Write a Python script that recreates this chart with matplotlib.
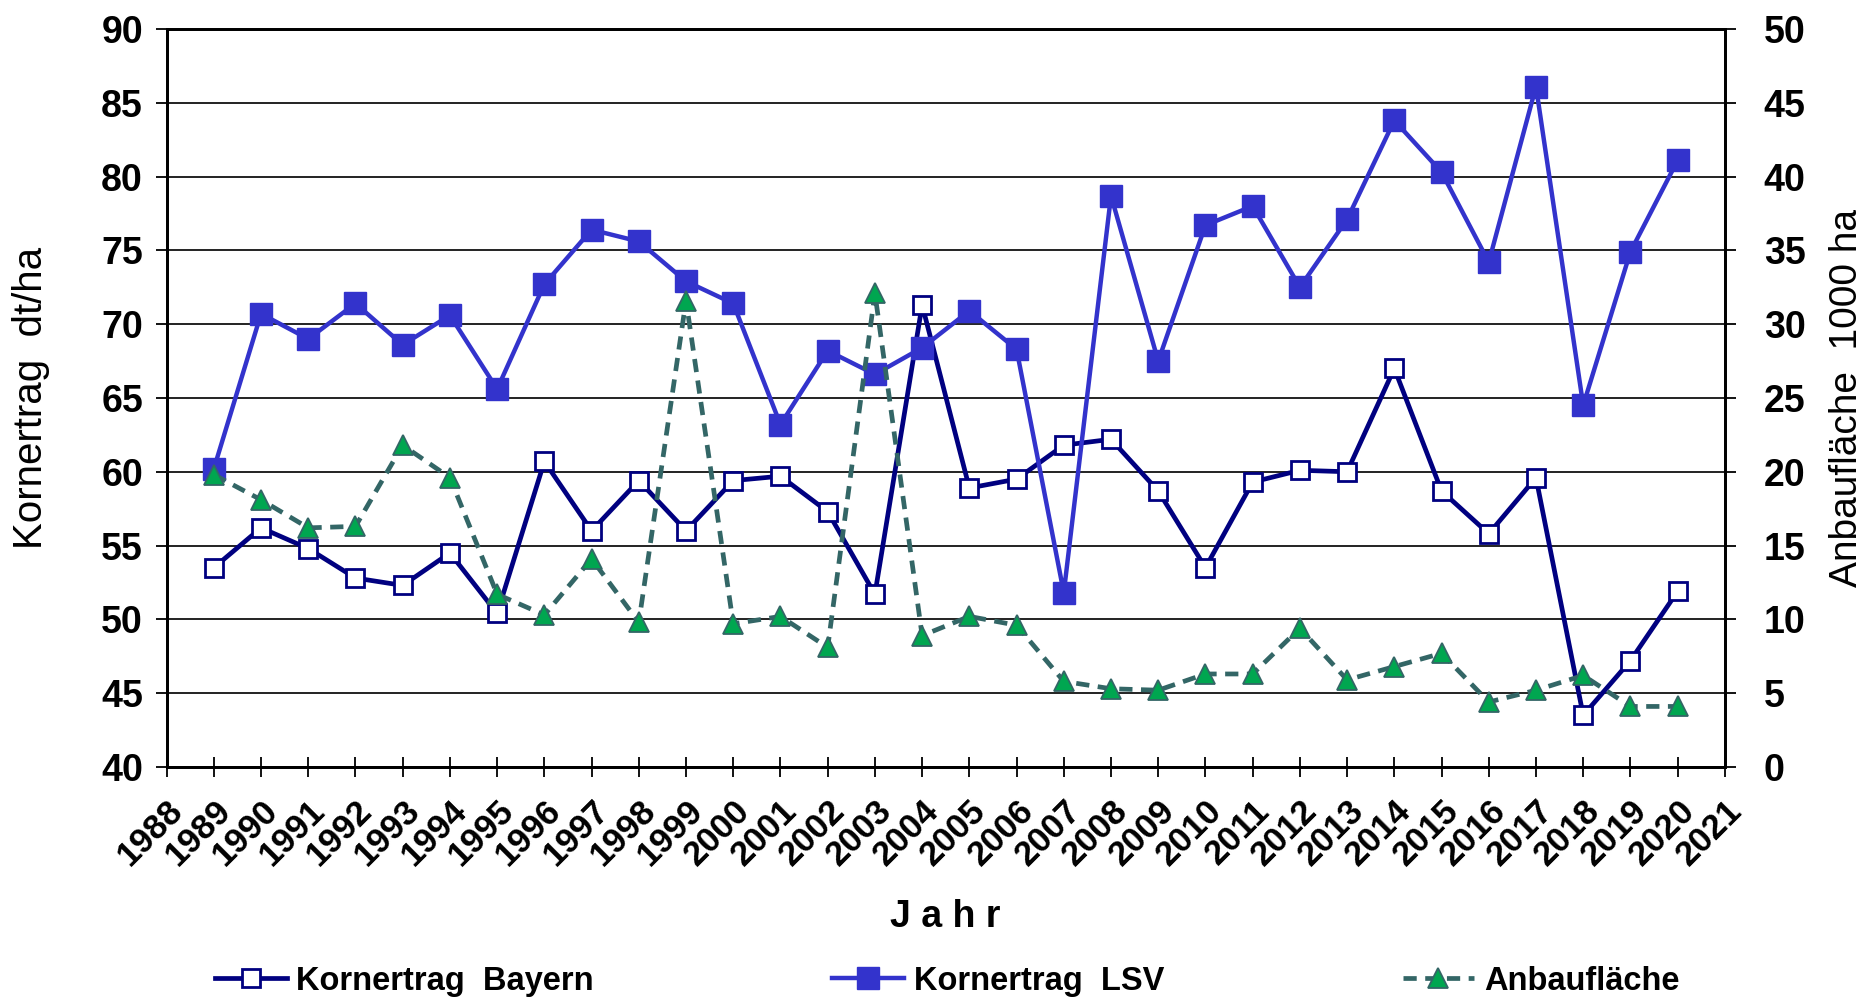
import matplotlib
matplotlib.use('Agg')
import matplotlib.pyplot as plt
import matplotlib.transforms as mtransforms
import numpy as np

plt.rcParams['font.family'] = ['Liberation Sans', 'DejaVu Sans']

# Data
years = list(range(1989, 2021))
ertrag_bayern = [53.5, 56.2, 54.8, 52.8, 52.3, 54.5, 50.4, 60.7, 56.0, 59.4,
                 56.0, 59.4, 59.7, 57.3, 51.7, 71.3, 58.9, 59.5, 61.8, 62.2,
                 58.7, 53.5, 59.3, 60.1, 60.0, 67.0, 58.7, 55.8, 59.6, 43.5,
                 47.2, 51.9]
ertrag_lsv = [60.2, 70.7, 69.0, 71.4, 68.6, 70.6, 65.6, 72.7, 76.4, 75.6,
              72.9, 71.4, 63.2, 68.2, 66.6, 68.4, 70.9, 68.3, 51.8, 78.7,
              67.5, 76.7, 78.0, 72.5, 77.1, 83.8, 80.3, 74.2, 86.1, 64.5,
              74.9, 81.1]
anbauflaeche = [19.8, 18.1, 16.2, 16.3, 21.8, 19.6, 11.7, 10.3, 14.1, 9.8,
                31.6, 9.7, 10.2, 8.1, 32.1, 8.9, 10.2, 9.6, 5.8, 5.3,
                5.2, 6.3, 6.3, 9.4, 5.9, 6.8, 7.7, 4.4, 5.2, 6.2,
                4.1, 4.1]
xtick_years = list(range(1988, 2022))
left_ticks = list(range(40, 91, 5))
right_ticks = list(range(0, 51, 5))

fig = plt.figure(figsize=(18.72, 9.98), dpi=100)
ax = fig.add_axes([0.089, 0.2315, 0.8324, 0.7395])
ax2 = ax.twinx()

# Kornertrag lines on the left axis
ax.plot(years, ertrag_bayern, color='#000080', lw=3.4, marker='s', ms=13,
        mfc='white', mec='#000080', mew=2, label='Kornertrag  Bayern', zorder=3)
ax.plot(years, ertrag_lsv, color='#3333CC', lw=3.2, marker='s', ms=15.5,
        mfc='#3333CC', mec='#3333CC', label='Kornertrag  LSV', zorder=3)

# Anbaufläche on the right axis
ax2.plot(years, anbauflaeche, color='#336666', lw=3.4, ls=(0, (2.8, 1.8)),
         marker='^', ms=15, mfc='#00A650', mec='#336666', mew=1.3,
         label='Anbaufläche')

ax.set_xlim(1988, 2021)
ax.set_ylim(40, 90)
ax2.set_ylim(0, 50)
ax.set_yticks(left_ticks)
ax2.set_yticks(right_ticks)
ax.set_xticks(xtick_years)
ax.set_xticklabels([str(y) for y in xtick_years], rotation=45, ha='right',
                   va='top', rotation_mode='anchor')
offset = mtransforms.ScaledTranslation(0.08, 0.0, fig.dpi_scale_trans)
for lab in ax.get_xticklabels():
    lab.set_transform(lab.get_transform() + offset)

ax.grid(axis='y', color='#222222', lw=1.4)
ax.set_axisbelow(True)

for a in (ax, ax2):
    for s in a.spines.values():
        s.set_linewidth(2)
        s.set_color('black')

ax.tick_params(axis='x', direction='inout', length=15, width=1.3, pad=12,
               labelsize=25)
ax.tick_params(axis='y', direction='out', length=8, width=1.3, pad=9,
               labelsize=27)
ax2.tick_params(axis='y', direction='out', length=8, width=1.3, pad=20,
                labelsize=27)
for lab in ax.get_xticklabels() + ax.get_yticklabels() + ax2.get_yticklabels():
    lab.set_fontweight('bold')

ax.set_ylabel('Kornertrag  dt/ha', fontsize=29)
ax.yaxis.set_label_coords(-0.075, 0.5)
ax2.set_ylabel('Anbaufläche  1000 ha', fontsize=28)
ax2.yaxis.set_label_coords(1.067, 0.5)
ax.set_xlabel('J a h r', fontsize=27, fontweight='bold', labelpad=19)

h1, l1 = ax.get_legend_handles_labels()
h2, l2 = ax2.get_legend_handles_labels()
fig.legend(h1 + h2, l1 + l2, loc='center', bbox_to_anchor=(0.506, 0.017),
           ncol=3, frameon=False, columnspacing=7.3, handlelength=2.2,
           handletextpad=0.3, prop={'size': 23.5, 'weight': 'bold'})

fig.savefig('out.png', dpi=100)
